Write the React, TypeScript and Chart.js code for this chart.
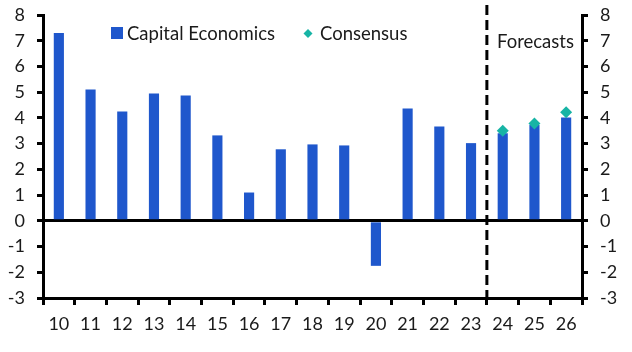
import React, { useEffect, useRef } from "react";
import { Chart, registerables } from "chart.js";

Chart.register(...registerables);

const categories = ["10", "11", "12", "13", "14", "15", "16", "17", "18", "19", "20", "21", "22", "23", "24", "25", "26"];
const capitalEconomics = [7.3, 5.1, 4.25, 4.95, 4.87, 3.32, 1.1, 2.78, 2.97, 2.93, -1.75, 4.37, 3.67, 3.02, 3.4, 3.72, 4.02];
const consensus = [null, null, null, null, null, null, null, null, null, null, null, null, null, null, 3.5, 3.78, 4.22];
const yMin = -3;
const yMax = 8;
const forecastStartIndex = 14;
const seriesNames = ["Capital Economics", "Consensus"];
const forecastLabel = "Forecasts";

const BAR_COLOR = "#1F57CC";
const DOT_COLOR = "#17B4A5";
const FONT = "Lato, 'Open Sans', sans-serif";
const TEXT = "#1a1a1a";

const overlayPlugin = {
  id: "overlay",
  afterDatasetsDraw(chart: any) {
    const ctx = chart.ctx;
    const x = chart.scales.x;
    const area = chart.chartArea;
    const px = (x.getPixelForTick(forecastStartIndex - 1) + x.getPixelForTick(forecastStartIndex)) / 2;
    ctx.save();
    ctx.strokeStyle = "#000";
    ctx.lineWidth = 3;
    ctx.setLineDash([10, 5]);
    ctx.beginPath();
    ctx.moveTo(px, 5);
    ctx.lineTo(px, area.bottom);
    ctx.stroke();
    ctx.setLineDash([]);

    ctx.font = `18.5px ${FONT}`;
    ctx.fillStyle = TEXT;
    ctx.textBaseline = "middle";
    ctx.textAlign = "left";
    // legend
    ctx.fillStyle = BAR_COLOR;
    ctx.fillRect(111, 27, 12, 12);
    ctx.fillStyle = TEXT;
    ctx.fillText(seriesNames[0], 127, 34);
    ctx.fillStyle = DOT_COLOR;
    ctx.beginPath();
    ctx.moveTo(308, 29);
    ctx.lineTo(312.5, 33.5);
    ctx.lineTo(308, 38);
    ctx.lineTo(303.5, 33.5);
    ctx.closePath();
    ctx.fill();
    ctx.fillStyle = TEXT;
    ctx.fillText(seriesNames[1], 320, 34);
    ctx.fillText(forecastLabel, 497, 42);
    ctx.restore();
  },
};

export default function App() {
  const ref = useRef<HTMLCanvasElement | null>(null);
  useEffect(() => {
    document.body.style.margin = "0";
    const tickFont = { family: FONT, size: 18 };
    const chart = new Chart(ref.current as HTMLCanvasElement, {
      type: "bar",
      data: {
        labels: categories,
        datasets: [
          {
            label: seriesNames[0],
            data: capitalEconomics,
            backgroundColor: BAR_COLOR,
            barPercentage: 0.32,
            categoryPercentage: 1,
            yAxisID: "y",
            order: 2,
          },
          {
            type: "line",
            label: seriesNames[1],
            data: consensus as any,
            showLine: false,
            pointStyle: "rectRot",
            pointRadius: 6,
            pointBackgroundColor: DOT_COLOR,
            pointBorderColor: DOT_COLOR,
            pointBorderWidth: 0,
            yAxisID: "y",
            order: 1,
          } as any,
        ],
      },
      options: {
        animation: false,
        responsive: false,
        maintainAspectRatio: false,
        layout: { padding: { top: 15, left: 0, right: 0, bottom: 0 } },
        plugins: { legend: { display: false }, tooltip: { enabled: false } },
        scales: {
          x: {
            offset: true,
            grid: {
              offset: true,
              drawOnChartArea: false,
              tickLength: 7,
              lineWidth: 3,
              color: "#000",
            },
            border: { display: true, color: "#000", width: 3 },
            ticks: { font: tickFont, color: TEXT, padding: 8, maxRotation: 0 },
            afterFit(s: any) {
              s.height = 54;
              s.paddingLeft = 0;
              s.paddingRight = 0;
            },
          },
          y: {
            position: "left",
            min: yMin,
            max: yMax,
            grid: {
              drawOnChartArea: true,
              color: (c: any) => (c.tick && c.tick.value === 0 ? "#000" : "rgba(0,0,0,0)"),
              tickColor: "#000",
              lineWidth: 3,
              tickLength: 6,
            },
            border: { display: true, color: "#000", width: 3 },
            ticks: { stepSize: 1, font: tickFont, color: TEXT, padding: 12 },
            afterFit(s: any) {
              s.width = 43;
              s.paddingTop = 0;
              s.paddingBottom = 0;
            },
          },
          y2: {
            position: "right",
            min: yMin,
            max: yMax,
            grid: {
              drawOnChartArea: false,
              color: "#000",
              lineWidth: 3,
              tickLength: 6,
            },
            border: { display: true, color: "#000", width: 3 },
            ticks: { stepSize: 1, font: tickFont, color: TEXT, padding: 12 },
            afterFit(s: any) {
              s.width = 50;
              s.paddingTop = 0;
              s.paddingBottom = 0;
            },
          },
        },
      },
      plugins: [overlayPlugin],
    });
    return () => chart.destroy();
  }, []);
  return (
    <div style={{ position: "absolute", left: 0, top: 0, width: 632, height: 352 }}>
      <canvas ref={ref} width={632} height={352} style={{ width: 632, height: 352 }} />
    </div>
  );
}
